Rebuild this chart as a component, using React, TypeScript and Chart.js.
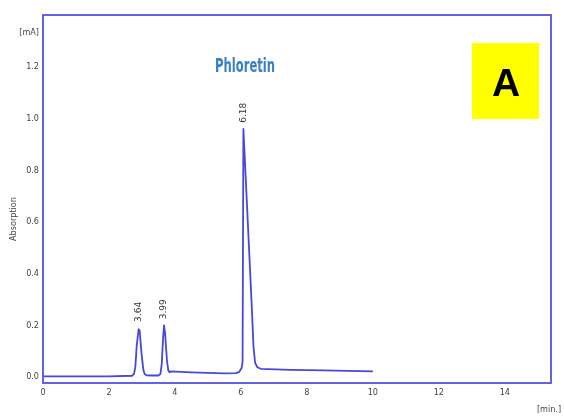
import React, { useEffect, useRef } from "react";
import { Chart, registerables } from "chart.js";

Chart.register(...registerables);

// Chromatogram trace (time in min, absorption in mA)
const times = [0, 1, 2, 2.7, 2.76, 2.8, 2.84, 2.9, 2.93, 2.98, 3.04, 3.08, 3.14, 3.3, 3.5, 3.56, 3.6, 3.64, 3.67, 3.7, 3.76, 3.8, 3.84, 3.87, 4.5, 5.5, 5.85, 5.95, 6.02, 6.05, 6.075, 6.33, 6.38, 6.43, 6.5, 6.6, 7.5, 8.5, 10];
const absorption = [0.003, 0.003, 0.003, 0.005, 0.012, 0.04, 0.12, 0.185, 0.18, 0.1, 0.03, 0.012, 0.007, 0.006, 0.006, 0.012, 0.05, 0.15, 0.2, 0.17, 0.06, 0.025, 0.018, 0.022, 0.018, 0.014, 0.015, 0.02, 0.035, 0.06, 0.96, 0.27, 0.12, 0.055, 0.038, 0.032, 0.028, 0.026, 0.022];

const peakTimes = [2.91, 3.67, 6.075];
const peakValues = [0.19, 0.2, 0.96];
const peakLabels = ["3.64", "3.99", "6.18"];

const xTicks = [0, 2, 4, 6, 8, 10, 12, 14];
const yTicks = [0, 0.2, 0.4, 0.6, 0.8, 1.0, 1.2];
const yUnitTick = 1.33;
const yUnitLabel = "[mA]";
const xUnitLabel = "[min.]";
const yTitle = "Absorption";
const compoundName = "Phloretin";
const panelLetter = "A";

export default function App() {
  const ref = useRef<HTMLCanvasElement | null>(null);

  useEffect(() => {
    document.body.style.margin = "0";
    const canvas = ref.current;
    if (!canvas) return;

    const overlay = {
      id: "overlay",
      afterDatasetsDraw(chart: any) {
        const { ctx, chartArea, scales } = chart;
        const xs = scales.x;
        const ys = scales.y;
        ctx.save();
        // frame
        ctx.strokeStyle = "#6363e4";
        ctx.lineWidth = 2;
        ctx.strokeRect(chartArea.left, chartArea.top, chartArea.right - chartArea.left, chartArea.bottom - chartArea.top);

        // peak labels
        ctx.fillStyle = "#333";
        ctx.font = "9px 'DejaVu Sans'";
        ctx.textAlign = "left";
        ctx.textBaseline = "middle";
        peakTimes.forEach((t, i) => {
          const px = xs.getPixelForValue(t);
          const py = ys.getPixelForValue(peakValues[i]);
          ctx.save();
          ctx.translate(px, py - 6);
          ctx.rotate(-Math.PI / 2);
          ctx.fillText(peakLabels[i], 0, 0);
          ctx.restore();
        });

        // compound name
        ctx.fillStyle = "#3a7ec6";
        ctx.font = "bold 20px 'DejaVu Sans Condensed', 'DejaVu Sans', sans-serif";
        ctx.textAlign = "center";
        ctx.textBaseline = "alphabetic";
        ctx.fillText(compoundName, chartArea.left + 202, chartArea.top + 57, 60);

        // panel letter box
        const bx = chartArea.right - 79;
        const by = chartArea.top + 28;
        ctx.fillStyle = "#ffff00";
        ctx.fillRect(bx, by, 67, 76);
        ctx.fillStyle = "#000";
        ctx.font = "bold 39px 'Liberation Sans', Arial, sans-serif";
        ctx.textBaseline = "alphabetic";
        ctx.fillText(panelLetter, bx + 34, by + 53);

        // y title
        ctx.fillStyle = "#444";
        ctx.font = "9px 'DejaVu Sans Condensed', 'DejaVu Sans'";
        ctx.textBaseline = "middle";
        ctx.save();
        ctx.translate(14, (chartArea.top + chartArea.bottom) / 2 + 20);
        ctx.rotate(-Math.PI / 2);
        ctx.fillText(yTitle, 0, 0);
        ctx.restore();

        // x unit
        ctx.fillText(xUnitLabel, chartArea.right - 2, chartArea.bottom + 27);
        ctx.restore();
      },
    };

    const chart = new Chart(canvas, {
      type: "line",
      data: {
        datasets: [
          {
            data: times.map((t, i) => ({ x: t, y: absorption[i] })),
            borderColor: "#4747dc",
            borderWidth: 1.8,
            pointRadius: 0,
            fill: false,
            tension: 0,
            borderJoinStyle: "round",
          },
        ],
      },
      options: {
        animation: false,
        responsive: false,
        maintainAspectRatio: false,
        layout: { padding: { left: 0, right: 13, top: 15, bottom: 0 } },
        plugins: { legend: { display: false }, tooltip: { enabled: false } },
        scales: {
          x: {
            type: "linear",
            min: 0,
            max: 15.4,
            grid: { display: false, drawTicks: false },
            border: { display: false },
            afterBuildTicks: (s: any) => {
              s.ticks = xTicks.map((v) => ({ value: v }));
            },
            afterFit: (s: any) => {
              s.height = 37;
            },
            ticks: {
              padding: 4,
              color: "#444",
              font: { family: "'DejaVu Sans Condensed', 'DejaVu Sans'", size: 9 },
              callback: (v: any) => String(v),
              maxRotation: 0,
              autoSkip: false,
            },
          },
          y: {
            min: -0.023,
            max: 1.4,
            grid: { display: false, drawTicks: false },
            border: { display: false },
            afterBuildTicks: (s: any) => {
              s.ticks = [...yTicks, yUnitTick].map((v) => ({ value: v }));
            },
            afterFit: (s: any) => {
              s.width = 43;
            },
            ticks: {
              padding: 4,
              color: "#444",
              font: { family: "'DejaVu Sans Condensed', 'DejaVu Sans'", size: 9 },
              autoSkip: false,
              callback: (v: any) => (Math.abs(v - yUnitTick) < 1e-6 ? yUnitLabel : Number(v).toFixed(1)),
            },
          },
        },
      },
      plugins: [overlay],
    });

    return () => chart.destroy();
  }, []);

  return (
    <div style={{ position: "absolute", left: 0, top: 0, width: 564, height: 420, background: "#fff" }}>
      <canvas ref={ref} width={564} height={420} style={{ width: 564, height: 420 }} />
    </div>
  );
}
